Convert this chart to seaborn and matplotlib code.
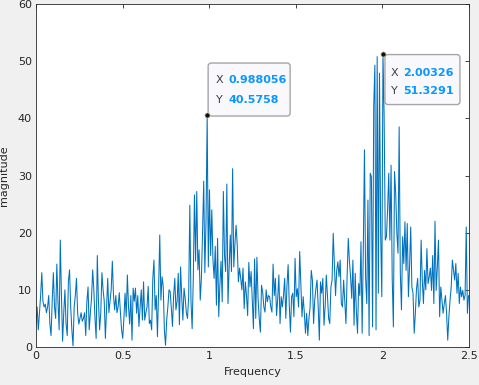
import numpy as np
import pandas as pd
import matplotlib
matplotlib.use("Agg")
import matplotlib.pyplot as plt
import matplotlib.transforms as mtransforms
from matplotlib.patches import FancyBboxPatch
import seaborn as sns

# spectrum magnitude, one value per frequency bin
magnitude = [
    4, 7, 3, 6, 9, 13, 8, 7, 7.5, 6,
    7, 9, 4, 2, 8, 13, 7, 5, 14.5, 8,
    3, 18.7, 9, 1, 6, 10, 4, 2, 11.5, 13.5,
    7, 3, 0.2, 7, 9, 12, 6, 4, 5, 6,
    4.5, 5, 6, 2, 8, 10.5, 3, 6, 8.5, 13.5,
    10, 5, 1.5, 16, 8, 3, 6, 13, 10, 8,
    1.5, 7, 12, 6, 8, 10, 15, 9, 6.5, 9,
    6, 7, 9.5, 6, 3, 1.5, 5, 9.4, 5.3, 12.6,
    7, 4, 9, 1.2, 10.3, 8, 10.3, 5.9, 9, 3.6,
    7, 10, 4.7, 11.4, 4.7, 6, 7, 10.6, 4.1, 4.7,
    3, 12, 15.2, 6.5, 9, 1.8, 10, 19.6, 8.2, 12.3,
    10.6, 3, 0.3, 4.7, 7, 10, 9.7, 6.8, 3.6, 9,
    12, 6.5, 8, 12.9, 3.9, 14, 8.8, 4.7, 10.3, 8.5,
    6, 5, 8.8, 24.8, 8, 3.2, 12, 26.6, 15, 27.2,
    13.5, 17, 8.2, 12, 20, 29, 13, 22, 40.5758, 14,
    27.5, 16, 24, 15.2, 12, 17.6, 7.3, 19, 5.3, 11,
    15, 7.9, 27.2, 16, 13.2, 28.5, 7.6, 14, 19.6, 13.2,
    31.2, 14, 18, 21.3, 17.8, 11.4, 13.8, 12, 10, 13.8,
    6.7, 11.4, 9, 5.5, 14.8, 10.5, 13.2, 8, 3.2, 15.4,
    5, 15.7, 8.5, 5, 2.6, 10.8, 9.6, 7, 6.1, 10,
    7.9, 9, 8.8, 7, 6.1, 14.5, 9, 12, 5.5, 8.5,
    12.6, 4.1, 8.8, 7, 9, 12, 5, 10.8, 14.4, 7.3,
    2.6, 8.8, 9.4, 5.3, 15.5, 8.8, 10.2, 7, 16.7, 11.1,
    5.3, 8.8, 6, 2.4, 5.9, 2, 5, 7, 13.4, 11.7,
    4.1, 8.2, 10.2, 11.7, 7, 1.2, 11.4, 9.4, 12, 3.8,
    7, 12.6, 9, 5, 4.1, 10.5, 11.7, 19.9, 14.6, 9,
    13.4, 14.9, 12.3, 15.2, 7.6, 7, 11.7, 8, 4.1, 12.3,
    19, 15, 12.3, 8.5, 15.2, 3.8, 12.9, 6.2, 2.4, 11.1,
    9, 18.4, 2.4, 17.2, 34.5, 12, 7.6, 25.7, 2, 30.4,
    29.8, 3.5, 42, 49.3, 3, 50.8, 9.4, 47.9, 20, 8.8,
    51.3291, 40.6, 18.7, 19.3, 24, 30.4, 18.7, 31.8, 12, 3.5,
    30.7, 26.9, 20, 16.4, 38.5, 12.9, 6.5, 19.3, 14.6, 21.9,
    13.4, 21.6, 8.8, 14, 21, 10.5, 9.4, 2.4, 5.9, 10.2,
    12, 7, 8.2, 18.7, 11.7, 7.6, 13.4, 10, 17.2, 11.1,
    12.3, 13.8, 9.9, 16, 7.6, 22, 9.9, 14, 18.7, 5.3,
    10.5, 8.2, 5.9, 7.6, 9, 5.9, 1.2, 5.3, 8.2, 10.5,
    15.2, 13.4, 11.7, 14.6, 9.4, 12.9, 7.6, 10.5, 8.8, 9.9,
    8.2, 9, 21, 5.9, 9,
]
bin_width = 2.00326 / 300

# data tips
tip_x = [0.988056, 2.00326]
tip_y = [40.5758, 51.3291]
tip_x_text = ["0.988056", "2.00326"]
tip_y_text = ["40.5758", "51.3291"]

x_ticks = [0, 0.5, 1, 1.5, 2, 2.5]
y_ticks = [0, 10, 20, 30, 40, 50, 60]

freq = np.arange(len(magnitude)) * bin_width
data = pd.DataFrame({"Frequency": freq, "magnitude": magnitude})

sns.set_style("white")
plt.rcParams["font.family"] = ["DejaVu Sans"]

fig = plt.figure(figsize=(4.79, 3.85), dpi=100, facecolor="#f0f0f0")
ax = fig.add_axes([36 / 479, 1 - 347 / 385, 433 / 479, 343 / 385])
ax.set_facecolor("white")

sns.lineplot(data=data, x="Frequency", y="magnitude", ax=ax,
             color="#0072BD", linewidth=0.75, errorbar=None)

ax.set_xlim(0, 2.5)
ax.set_ylim(0, 60)
ax.set_xticks(x_ticks)
ax.set_xticklabels(["0", "0.5", "1", "1.5", "2", "2.5"])
ax.set_yticks(y_ticks)

txt = "#262626"
for s in ax.spines.values():
    s.set_color(txt)
    s.set_linewidth(0.6)
ax.tick_params(direction="in", length=3, width=0.6, colors=txt, labelsize=8,
               top=True, right=True, pad=3)
ax.set_xlabel("Frequency", fontsize=8, color=txt, labelpad=4)
ax.set_ylabel("magnitude", fontsize=8, color=txt, labelpad=6)

# black dots on the picked points
ax.scatter(tip_x, tip_y, s=14, color="#111111", edgecolor="#d8d8a0",
           linewidth=0.5, zorder=6, clip_on=False)

# data tip boxes, offsets in pixels from the point
box_offsets = [(1, -1, 82, 53), (2, -51, 75, 50)]
text_offsets = [(9, 35, 15), (8, -19, -37)]
fig.canvas.draw()
for i in range(2):
    px, py = ax.transData.transform((tip_x[i], tip_y[i]))
    bx, by, bw, bh = box_offsets[i]
    box = FancyBboxPatch((px + bx, py + by), bw, bh,
                         boxstyle="round,pad=0,rounding_size=3",
                         transform=mtransforms.IdentityTransform(),
                         facecolor="#f9f9fd", edgecolor="#a6a6a6",
                         linewidth=1.0, zorder=4, clip_on=False)
    ax.add_artist(box)
    tx, ty1, ty2 = text_offsets[i]
    for lab, val, dy in [("X", tip_x_text[i], ty1), ("Y", tip_y_text[i], ty2)]:
        ax.annotate(lab, xy=(tip_x[i], tip_y[i]), xytext=(tx, dy),
                    textcoords="offset pixels", ha="left", va="center",
                    fontsize=8, color="#404040", zorder=5)
        ax.annotate(val, xy=(tip_x[i], tip_y[i]), xytext=(tx + 12, dy),
                    textcoords="offset pixels", ha="left", va="center",
                    fontsize=8, fontweight="bold", color="#0a96ff", zorder=5)

fig.savefig("out.png", dpi=100, facecolor=fig.get_facecolor())
